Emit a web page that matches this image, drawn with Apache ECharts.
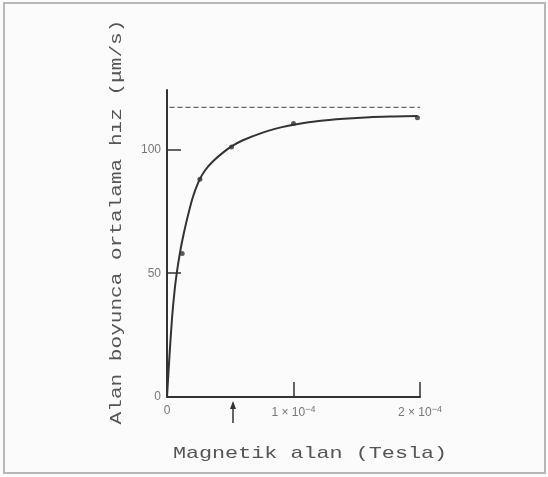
<!DOCTYPE html>
<html><head><meta charset="utf-8">
<script src="https://cdn.jsdelivr.net/npm/echarts@6/dist/echarts.min.js"></script>
<style>html,body{margin:0;padding:0;background:#fbfbfb;}#c{width:548px;height:477px;}</style>
</head><body><div id="c"></div>
<script>
// x values in units of 10^-4 Tesla
const curveX = [0, 0.02, 0.04, 0.06, 0.08, 0.10, 0.12, 0.15, 0.20, 0.25, 0.30, 0.37, 0.45, 0.52, 0.60, 0.74, 0.90, 1.00, 1.20, 1.40, 1.60, 1.80, 1.98];
const curveY = [0, 17, 32, 43, 51, 57.5, 63, 70, 80, 87, 91.5, 95.5, 99, 101.5, 103.7, 106.5, 108.9, 110, 111.5, 112.4, 113, 113.3, 113.5];
const pointX = [0.12, 0.26, 0.51, 1.0, 1.98];
const pointY = [58, 88, 101, 110.5, 112.8];
const asymptoteX = [0.02, 2];
const asymptoteY = [117, 117];
const arrowX = 0.52;
const xTicks = [1, 2];
const xLabels = [0, 1, 2];
const yTicks = [50, 100];
const yLabels = [0, 50, 100];
const xTitle = 'Magnetik alan (Tesla)';
const yTitle = 'Alan boyunca ortalama hız (μm/s)';

const chart = echarts.init(document.getElementById('c'), null, {renderer: 'canvas'});
const zip = (a, b) => a.map((v, i) => [v, b[i]]);
const ink = '#333';
const option = {
  backgroundColor: '#fbfbfb',
  animation: false,
  grid: {left: 167, right: 128, top: 90, bottom: 80},
  xAxis: {
    type: 'value', min: 0, max: 2,
    axisLine: {lineStyle: {color: ink, width: 2}},
    axisTick: {inside: true, length: 15, customValues: xTicks, lineStyle: {color: ink, width: 1.5}},
    axisLabel: {
      customValues: xLabels, margin: 8, color: '#777', fontFamily: 'Liberation Sans', fontSize: 12,
      formatter: v => v === 0 ? '0' : v + ' × 10{s|−4}',
      rich: {s: {fontSize: 9, verticalAlign: 'top', color: '#777', padding: [0, 0, 7, 0]}}
    },
    splitLine: {show: false}
  },
  yAxis: {
    type: 'value', min: 0, max: 124,
    axisLine: {lineStyle: {color: ink, width: 2}},
    axisTick: {inside: true, length: 14, customValues: yTicks, lineStyle: {color: ink, width: 1.5}},
    axisLabel: {customValues: yLabels, margin: 6, color: '#777', fontFamily: 'Liberation Sans', fontSize: 12},
    splitLine: {show: false}
  },
  series: [
    {type: 'line', data: zip(curveX, curveY), smooth: 0.3, showSymbol: false,
     lineStyle: {color: ink, width: 2}, clip: false},
    {type: 'line', data: zip(asymptoteX, asymptoteY), showSymbol: false,
     lineStyle: {color: '#666', width: 1.2, type: [5, 3]}},
    {type: 'scatter', data: zip(pointX, pointY), symbol: 'circle', symbolSize: 5,
     itemStyle: {color: ink}}
  ],
  graphic: [
    {type: 'rect', shape: {x: 4, y: 3, width: 541, height: 470}, silent: true,
     style: {fill: 'none', stroke: '#b8b8b8', lineWidth: 2}, z: -1},
    {type: 'text', x: 310, y: 453, scaleX: 1.28,
     style: {text: xTitle, font: '17px "Liberation Mono"', fill: '#555', align: 'center', verticalAlign: 'middle'}},
    {type: 'text', x: 116, y: 222, rotation: Math.PI / 2, scaleX: 1.24,
     style: {text: yTitle, font: '17px "Liberation Mono"', fill: '#555', align: 'center', verticalAlign: 'middle'}}
  ]
};
chart.setOption(option);
const base = chart.convertToPixel({gridIndex: 0}, [arrowX, 0]);
const ax = Math.round(base[0]), ay = base[1];
chart.setOption({graphic: option.graphic.concat([
  {type: 'line', shape: {x1: ax, y1: ay + 6, x2: ax, y2: ay + 26}, style: {stroke: ink, lineWidth: 1.5}},
  {type: 'polygon', shape: {points: [[ax, ay + 4], [ax - 3, ay + 12], [ax + 3, ay + 12]]}, style: {fill: ink}}
])});
</script></body></html>
